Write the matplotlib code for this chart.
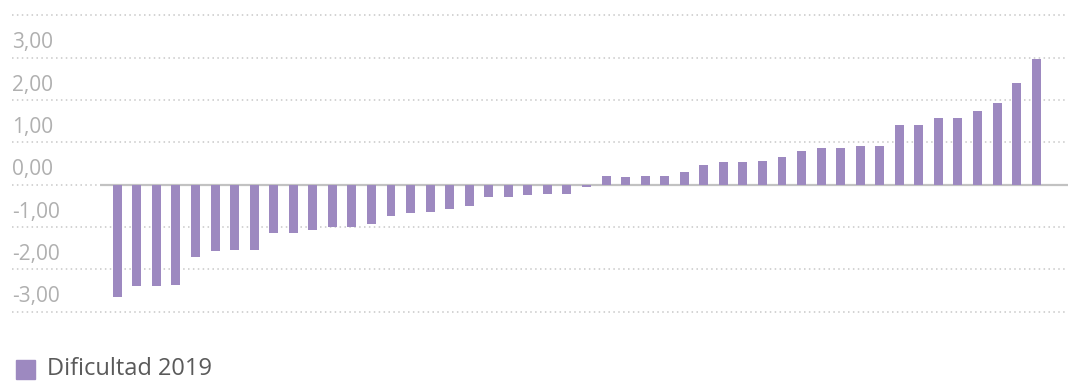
import numpy as np
import matplotlib.pyplot as plt

# Difficulty index per item, sorted from lowest to highest
dificultad_2019 = [
    -2.65, -2.39, -2.39, -2.36, -1.70, -1.56, -1.54, -1.54,
    -1.13, -1.13, -1.06, -0.99, -0.99, -0.92, -0.73, -0.66,
    -0.64, -0.57, -0.50, -0.28, -0.28, -0.24, -0.21, -0.21,
    -0.05, 0.21, 0.19, 0.21, 0.21, 0.31, 0.47, 0.54,
    0.54, 0.57, 0.66, 0.80, 0.87, 0.87, 0.92, 0.92,
    1.42, 1.42, 1.58, 1.58, 1.75, 1.94, 2.41, 2.98,
]
y_ticks = [3, 2, 1, 0, -1, -2, -3]
y_tick_labels = ['3,00', '2,00', '1,00', '0,00', '-1,00', '-2,00', '-3,00']
legend_label = 'Dificultad 2019'

bar_color = '#9d89c0'
grid_color = '#c8c8c8'
label_color = '#b0b0b0'

plt.rcParams['font.family'] = ['Open Sans', 'DejaVu Sans']

W, H = 1068, 381
fig = plt.figure(figsize=(W / 100, H / 100), dpi=100)

# axes spans the whole width (labels live inside it, left of the bars)
ax = fig.add_axes([12 / W, 1 - 315.9 / H, 1 - 12 / W, 304.8 / H])
ax.set_ylim(-3.1, 4.1)

x = np.arange(len(dificultad_2019))
slot = 19.55
left_px = 12
first_px = 117.3
x_left = -(first_px - left_px) / slot
x_right = (W - first_px) / slot
ax.set_xlim(x_left, x_right)

# dotted gridlines at every unit, including the empty one at the top
for v in [4] + y_ticks:
    if v == 0:
        continue
    ax.axhline(v, color=grid_color, lw=1.1, ls=(0, (1, 2.2)), zorder=0)

# solid zero line starts where the bars start
zero_start = -(first_px - 100) / slot
ax.plot([zero_start, x_right], [0, 0], color='#c2c2c2', lw=1.6, zorder=1,
        solid_capstyle='butt')
ax.plot([x_left, zero_start], [0, 0], color=grid_color, lw=1.1,
        ls=(0, (1, 2.2)), zorder=0)

ax.bar(x, dificultad_2019, width=0.46, color=bar_color, zorder=2)

for v, lab in zip(y_ticks, y_tick_labels):
    ax.text(x_left, v + 0.22, lab, color=label_color, fontsize=15,
            ha='left', va='baseline')

ax.axis('off')

# legend: square swatch and label below the plot
fig.patches.append(plt.Rectangle((16 / W, 1 - 379 / H), 19 / W, 19 / H,
                                 transform=fig.transFigure, color=bar_color))
fig.text(47 / W, 1 - 375 / H, legend_label, color='#5a5a5a', fontsize=17,
         ha='left', va='baseline')

fig.savefig('out.png', dpi=100)
